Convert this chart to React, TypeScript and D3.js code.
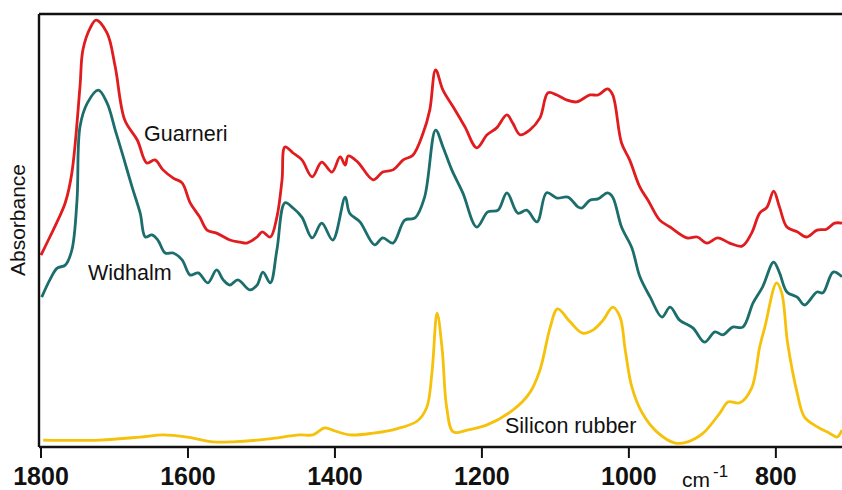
import React from "react";
import * as d3 from "d3";

const W = 842;
const H = 490;

// wavenumber (cm-1), absorbance (arbitrary units)
const guarneriWn = [1800,1788,1777,1767,1758,1747,1743,1733,1725,1710,1699,1686,1669,1656,1645,1634,1620,1608,1597,1584,1574,1561,1543,1529,1520,1506,1499,1488,1479,1472,1468,1457,1445,1431,1418,1404,1393,1386,1382,1369,1348,1335,1321,1307,1294,1280,1271,1263,1253,1239,1223,1207,1193,1180,1166,1158,1148,1135,1121,1110,1098,1084,1071,1053,1042,1029,1022,1010,999,985,974,958,944,921,907,894,879,863,846,833,822,812,803,795,785,771,758,744,731,720,710];
const guarneriAbs = [0.443,0.485,0.524,0.564,0.633,0.831,0.917,0.968,0.986,0.956,0.878,0.755,0.709,0.656,0.663,0.640,0.621,0.610,0.564,0.531,0.501,0.494,0.478,0.473,0.471,0.485,0.497,0.485,0.531,0.617,0.693,0.679,0.663,0.624,0.658,0.635,0.670,0.651,0.672,0.658,0.617,0.635,0.640,0.663,0.674,0.725,0.778,0.871,0.824,0.785,0.739,0.691,0.721,0.737,0.767,0.748,0.721,0.732,0.760,0.818,0.813,0.801,0.797,0.813,0.813,0.827,0.813,0.702,0.663,0.600,0.570,0.524,0.508,0.483,0.485,0.471,0.483,0.471,0.464,0.494,0.540,0.554,0.591,0.554,0.508,0.497,0.485,0.501,0.503,0.517,0.517];

const widhalmWn = [1799,1788,1778,1767,1758,1751,1747,1737,1722,1710,1699,1688,1676,1665,1658,1649,1641,1631,1620,1608,1597,1586,1573,1561,1552,1543,1532,1516,1506,1498,1488,1479,1468,1457,1445,1431,1418,1403,1386,1380,1366,1346,1335,1321,1305,1291,1278,1263,1253,1241,1226,1207,1192,1178,1166,1151,1139,1125,1112,1098,1083,1069,1064,1053,1042,1029,1022,1010,996,985,971,955,944,931,913,897,883,872,859,845,831,818,803,795,785,771,761,744,736,722,710];
const widhalmAbs = [0.346,0.386,0.413,0.420,0.455,0.570,0.739,0.794,0.824,0.794,0.732,0.670,0.600,0.540,0.485,0.490,0.478,0.448,0.448,0.432,0.397,0.402,0.379,0.409,0.386,0.374,0.386,0.363,0.374,0.404,0.379,0.455,0.564,0.552,0.531,0.483,0.517,0.478,0.577,0.540,0.520,0.467,0.483,0.471,0.524,0.529,0.577,0.732,0.693,0.640,0.587,0.508,0.543,0.547,0.587,0.540,0.547,0.520,0.587,0.575,0.577,0.554,0.552,0.570,0.573,0.587,0.577,0.508,0.460,0.393,0.346,0.300,0.323,0.293,0.275,0.242,0.266,0.259,0.277,0.277,0.333,0.370,0.427,0.402,0.358,0.346,0.328,0.358,0.356,0.404,0.393];

const siliconWn = [1797,1720,1665,1634,1601,1566,1539,1493,1448,1430,1414,1400,1380,1348,1316,1288,1275,1268,1261,1254,1248,1239,1220,1193,1158,1135,1121,1107,1097,1080,1063,1049,1035,1022,1012,1005,996,982,962,937,920,899,876,865,849,833,822,815,799,792,784,771,761,743,727,717,710];
const siliconAbs = [0.016,0.016,0.023,0.028,0.023,0.012,0.012,0.018,0.028,0.028,0.044,0.037,0.028,0.032,0.042,0.060,0.092,0.171,0.309,0.224,0.092,0.035,0.039,0.051,0.085,0.125,0.178,0.277,0.319,0.289,0.263,0.270,0.293,0.323,0.300,0.224,0.139,0.079,0.035,0.009,0.012,0.032,0.079,0.104,0.102,0.136,0.231,0.277,0.379,0.356,0.240,0.125,0.069,0.046,0.032,0.023,0.039];

const tickValues = [1800, 1600, 1400, 1200, 1000, 800];

const series = [
  { name: "Widhalm", wn: widhalmWn, abs: widhalmAbs, color: "#1b6e6c" },
  { name: "Guarneri", wn: guarneriWn, abs: guarneriAbs, color: "#e01c1f" },
  { name: "Silicon rubber", wn: siliconWn, abs: siliconAbs, color: "#f6c10a" },
];

export default function App() {
  const left = 41, right = 842, top = 14, bottom = 447;
  const x = d3.scaleLinear().domain([1800, 710]).range([left, right]);
  const y = d3.scaleLinear().domain([0, 1]).range([bottom, top]);
  const line = d3
    .line<[number, number]>()
    .x((d) => x(d[0]))
    .y((d) => y(d[1]))
    .curve(d3.curveCatmullRom.alpha(0.5));

  const font = "'Liberation Sans', Arial, sans-serif";

  return (
    <svg
      width={W}
      height={H}
      style={{ position: "absolute", left: 0, top: 0, background: "#fff" }}
      fontFamily={font}
    >
      <rect x={0} y={0} width={W} height={H} fill="#fff" />
      {series.map((s) => (
        <path
          key={s.name}
          d={line(s.wn.map((w, i) => [w, s.abs[i]] as [number, number])) || ""}
          fill="none"
          stroke={s.color}
          strokeWidth={2.8}
          strokeLinejoin="round"
        />
      ))}
      {/* frame */}
      <line x1={39} y1={top} x2={W} y2={top} stroke="#111" strokeWidth={2.4} />
      <line x1={39} y1={top} x2={39} y2={bottom} stroke="#111" strokeWidth={2.4} />
      <line x1={39} y1={bottom} x2={W} y2={bottom} stroke="#111" strokeWidth={2.4} />
      {tickValues.map((t) => (
        <g key={t}>
          <line x1={x(t)} y1={bottom} x2={x(t)} y2={bottom + 11} stroke="#111" strokeWidth={2} />
          <text
            x={x(t)}
            y={485}
            textAnchor="middle"
            fontSize={25}
            fontWeight="bold"
            fill="#111"
          >
            {t}
          </text>
        </g>
      ))}
      <text x={682} y={487} fontSize={21} fill="#111">
        cm
        <tspan fontSize={17} dy={-10} dx={3}>-1</tspan>
      </text>
      <text
        transform="translate(25,220) rotate(-90)"
        textAnchor="middle"
        fontSize={21}
        fill="#111"
      >
        Absorbance
      </text>
      <text x={144} y={141} fontSize={21.5} fill="#111">Guarneri</text>
      <text x={88} y={280} fontSize={21.5} fill="#111">Widhalm</text>
      <text x={505} y={433} fontSize={21.5} fill="#111">Silicon rubber</text>
    </svg>
  );
}
